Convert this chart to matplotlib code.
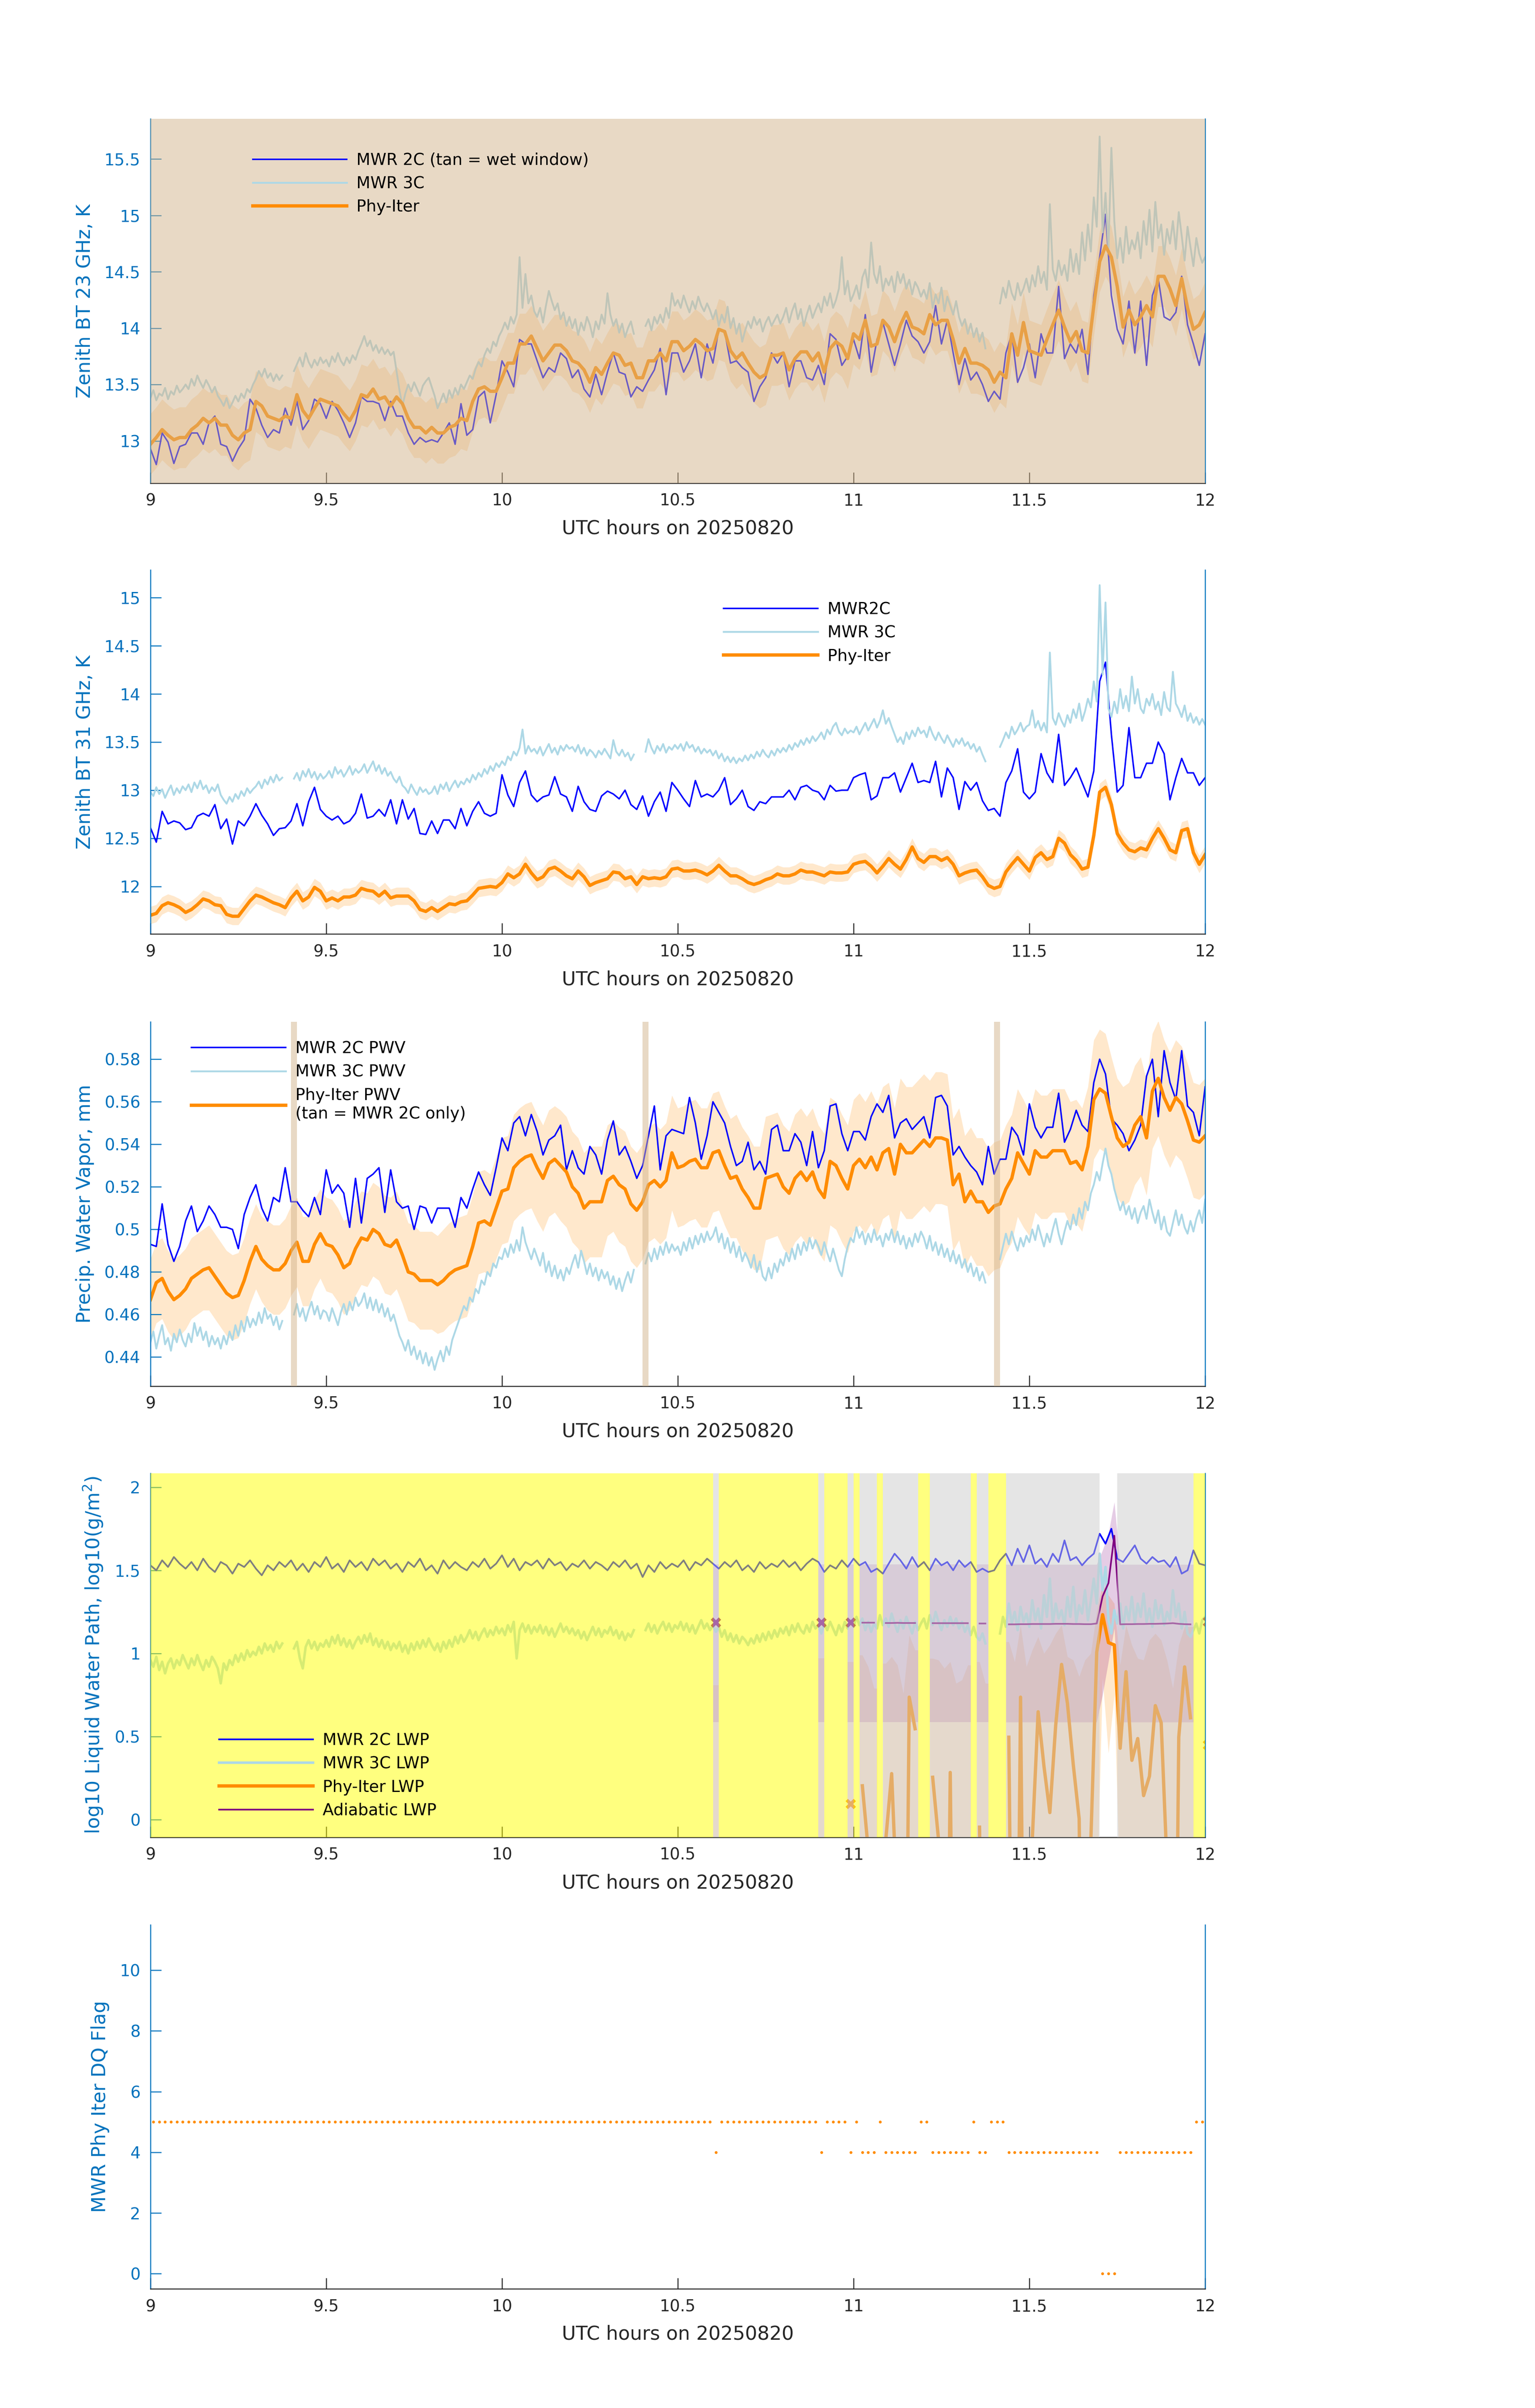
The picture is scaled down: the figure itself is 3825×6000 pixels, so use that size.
import numpy as np
import matplotlib
matplotlib.use("Agg")
import matplotlib.pyplot as plt
from matplotlib.ticker import FuncFormatter

nan = np.nan

# ---------------- sampling grids ----------------
T_2C = 9 + np.arange(181) / 60.0            # MWR 2C, 1-min
T_3C = 9 + np.arange(361) / 120.0           # MWR 3C, 30-s
T_PI = 9 + (np.arange(181) + 0.5) / 60.0    # Phy-Iter retrieval samples
XTICKS = [9, 9.5, 10, 10.5, 11, 11.5, 12]

# ---------------- panel 1 : BT 23 GHz ----------------
BT23_2C = [12.93, 12.79, 13.07, 12.99, 12.80, 12.95, 12.97, 13.07, 13.07, 12.97,
           13.16, 13.22, 12.97, 12.95, 12.82, 12.93, 13.01, 13.37, 13.29, 13.14,
           13.03, 13.10, 13.07, 13.29, 13.14, 13.35, 13.10, 13.18, 13.37, 13.33,
           13.20, 13.35, 13.27, 13.16, 13.03, 13.16, 13.39, 13.35, 13.35, 13.33,
           13.18, 13.35, 13.22, 13.22, 13.07, 12.97, 13.03, 12.99, 13.01, 12.99,
           13.07, 13.16, 12.97, 13.33, 13.05, 13.10, 13.39, 13.44, 13.16, 13.41,
           13.71, 13.61, 13.48, 13.90, 13.86, 13.86, 13.71, 13.56, 13.65, 13.61,
           13.78, 13.73, 13.56, 13.63, 13.46, 13.39, 13.59, 13.41, 13.61, 13.78,
           13.61, 13.59, 13.39, 13.48, 13.44, 13.54, 13.63, 13.82, 13.41, 13.78,
           13.78, 13.61, 13.71, 13.86, 13.56, 13.86, 13.69, 13.99, 13.97, 13.69,
           13.71, 13.65, 13.61, 13.35, 13.48, 13.56, 13.78, 13.69, 13.78, 13.48,
           13.71, 13.71, 13.56, 13.54, 13.67, 13.50, 13.95, 13.90, 13.67, 13.75,
           13.90, 13.73, 14.12, 13.61, 13.90, 14.05, 13.86, 13.67, 13.86, 14.07,
           13.93, 13.88, 13.78, 13.88, 14.20, 13.86, 14.07, 13.78, 13.50, 13.73,
           13.54, 13.61, 13.50, 13.35, 13.44, 13.37, 13.78, 13.95, 13.52, 13.65,
           13.86, 13.56, 13.95, 13.78, 13.78, 14.37, 13.73, 13.86, 13.78, 13.99,
           13.59, 14.29, 14.63, 15.01, 14.29, 13.99, 13.86, 14.24, 13.78, 14.24,
           13.67, 14.29, 14.44, 14.10, 14.07, 14.14, 14.46, 14.03, 13.86, 13.67,
           13.95]
BT23_3C = [13.38, 13.45, 13.36, 13.42, 13.40, 13.47, 13.37, 13.44, 13.41, 13.49, 13.43, 13.46,
           13.50, 13.46, 13.55, 13.49, 13.58, 13.52, 13.47, 13.54, 13.49, 13.43, 13.48, 13.40,
           13.36, 13.31, 13.38, 13.29, 13.34, 13.40, 13.35, 13.42, 13.38, 13.46, 13.43, 13.50,
           13.55, 13.62, 13.57, 13.64, 13.56, 13.60, 13.53, 13.59, 13.54, 13.58, nan, nan,
           nan, 13.62, 13.68, 13.74, 13.66, 13.78, 13.70, 13.65, 13.72, 13.67, 13.74, 13.69,
           13.72, 13.66, 13.75, 13.70, 13.78, 13.71, 13.67, 13.74, 13.69, 13.76, 13.72, 13.80,
           13.86, 13.93, 13.84, 13.89, 13.80, 13.85, 13.78, 13.83, 13.77, 13.81, 13.76, 13.79,
           13.62, 13.45, 13.31, 13.42, 13.50, 13.44, 13.52, 13.46, 13.40, 13.49, 13.53, 13.56,
           13.48, 13.40, 13.29, 13.35, 13.42, 13.34, 13.45, 13.38, 13.47, 13.41, 13.50, 13.46,
           13.52, 13.58, 13.55, 13.64, 13.70, 13.66, 13.76, 13.82, 13.78, 13.88, 13.84, 13.93,
           13.98, 14.05, 13.99, 14.10, 14.04, 14.12, 14.63, 14.18, 14.48, 14.22, 14.29, 14.15,
           14.10, 14.18, 14.05, 14.20, 14.33, 14.24, 14.16, 14.22, 14.08, 14.14, 14.02, 14.10,
           14.00, 14.08, 13.94, 14.05, 13.98, 14.10, 14.03, 13.92, 14.06, 13.99, 14.12, 14.04,
           14.31, 14.12, 14.02, 14.08, 13.96, 14.04, 13.92, 14.00, 14.06, 13.95, nan, nan,
           nan, 14.02, 14.08, 13.98, 14.10, 14.04, 14.12, 14.05, 14.18, 14.09, 14.31, 14.20,
           14.25, 14.18, 14.29, 14.21, 14.14, 14.24, 14.17, 14.28, 14.20, 14.15, 14.22, 14.16,
           14.08, 14.16, 14.02, 14.12, 14.05, 14.19, 14.00, 14.09, 13.95, 14.04, 13.88, 13.98,
           14.06, 14.00, 14.10, 14.03, 14.08, 13.97, 14.05, 14.10, 14.02, 14.07, 14.12, 14.04,
           14.10, 14.18, 14.05, 14.15, 14.22, 14.08, 14.17, 14.02, 14.12, 14.20, 14.09, 14.16,
           14.22, 14.14, 14.28, 14.20, 14.31, 14.18, 14.25, 14.35, 14.63, 14.30, 14.42, 14.24,
           14.30, 14.38, 14.26, 14.45, 14.52, 14.36, 14.76, 14.48, 14.40, 14.55, 14.33, 14.44,
           14.38, 14.46, 14.32, 14.50, 14.40, 14.48, 14.35, 14.43, 14.30, 14.41, 14.36, 14.28,
           14.34, 14.26, 14.40, 14.18, 14.30, 14.22, 14.36, 14.15, 14.28, 14.20, 14.12, 14.24,
           14.10, 14.02, 14.08, 13.95, 14.04, 13.92, 14.00, 13.88, 13.96, 13.82, nan, nan,
           nan, nan, 14.22, 14.36, 14.27, 14.42, 14.31, 14.25, 14.40, 14.29, 14.35, 14.44,
           14.32, 14.47, 14.37, 14.55, 14.40, 14.50, 14.34, 15.10, 14.52, 14.42, 14.60, 14.47,
           14.56, 14.42, 14.70, 14.50, 14.66, 14.48, 14.85, 14.60, 14.92, 14.68, 15.16, 14.90,
           15.70, 14.85, 15.20, 14.70, 15.60, 14.95, 14.62, 14.80, 14.58, 14.90, 14.66, 14.78,
           14.70, 14.85, 14.62, 14.95, 14.74, 15.05, 14.68, 15.12, 14.80, 14.92, 14.65, 14.88,
           14.75, 14.95, 14.70, 15.03, 14.82, 14.60, 14.90, 14.72, 14.55, 14.80, 14.66, 14.58,
           14.63]
BT23_PI = [12.97, 13.03, 13.10, 13.05, 13.01, 13.03, 13.03, 13.10, 13.14, 13.20,
           13.16, 13.20, 13.14, 13.14, 13.05, 13.01, 13.07, 13.10, 13.35, 13.31,
           13.22, 13.20, 13.18, 13.22, 13.20, 13.41, 13.27, 13.20, 13.29, 13.37,
           13.35, 13.33, 13.31, 13.24, 13.18, 13.27, 13.41, 13.39, 13.46, 13.37,
           13.39, 13.31, 13.39, 13.33, 13.20, 13.12, 13.12, 13.07, 13.12, 13.07,
           13.07, 13.12, 13.14, 13.20, 13.18, 13.35, 13.46, 13.48, 13.44, 13.44,
           13.56, 13.69, 13.69, 13.86, 13.86, 13.93, 13.82, 13.71, 13.78, 13.85,
           13.85, 13.80, 13.71, 13.69, 13.63, 13.52, 13.65, 13.59, 13.69, 13.78,
           13.76, 13.67, 13.69, 13.56, 13.56, 13.71, 13.71, 13.78, 13.71, 13.88,
           13.88, 13.80, 13.84, 13.90, 13.86, 13.80, 13.82, 13.99, 13.97, 13.80,
           13.73, 13.78, 13.69, 13.61, 13.56, 13.59, 13.76, 13.76, 13.78, 13.63,
           13.73, 13.79, 13.79, 13.71, 13.78, 13.61, 13.82, 13.88, 13.84, 13.73,
           13.95, 13.90, 14.07, 13.84, 13.86, 14.07, 14.01, 13.88, 14.03, 14.14,
           14.01, 13.99, 13.95, 14.12, 14.03, 14.07, 14.07, 13.90, 13.69, 13.82,
           13.69, 13.69, 13.67, 13.63, 13.52, 13.61, 13.56, 13.95, 13.76, 14.05,
           13.80, 13.78, 13.76, 13.90, 14.03, 14.16, 14.01, 13.88, 13.97, 13.80,
           13.78, 14.20, 14.59, 14.73, 14.63, 14.37, 14.01, 14.16, 14.03, 14.10,
           14.20, 14.10, 14.46, 14.46, 14.35, 14.20, 14.44, 14.18, 13.99, 14.03,
           14.14]
BT23_PI_UNC = 0.27
WET_WINDOW = [(9.0, 12.0)]

# ---------------- panel 2 : BT 31 GHz ----------------
BT31_2C = [12.61, 12.46, 12.78, 12.65, 12.68, 12.66, 12.59, 12.61, 12.73, 12.76,
           12.73, 12.85, 12.60, 12.70, 12.44, 12.68, 12.63, 12.73, 12.86, 12.74,
           12.65, 12.53, 12.60, 12.61, 12.68, 12.86, 12.63, 12.88, 13.03, 12.80,
           12.73, 12.69, 12.73, 12.65, 12.68, 12.76, 12.96, 12.71, 12.73, 12.80,
           12.73, 12.90, 12.65, 12.90, 12.70, 12.81, 12.55, 12.54, 12.68, 12.55,
           12.69, 12.69, 12.60, 12.81, 12.63, 12.78, 12.88, 12.76, 12.73, 12.76,
           13.16, 12.95, 12.83, 13.08, 13.20, 12.95, 12.88, 12.93, 12.95, 13.14,
           12.96, 12.93, 12.78, 13.04, 12.88, 12.80, 12.78, 12.94, 12.99, 12.96,
           12.91, 13.00, 12.85, 12.80, 12.94, 12.73, 12.88, 12.98, 12.78, 13.08,
           13.00, 12.91, 12.83, 13.10, 12.93, 12.96, 12.93, 13.00, 13.13, 12.85,
           12.91, 13.00, 12.83, 12.79, 12.88, 12.86, 12.93, 12.93, 12.93, 13.00,
           12.90, 13.03, 13.05, 13.00, 12.98, 12.90, 13.05, 12.99, 13.00, 13.00,
           13.13, 13.16, 13.18, 12.90, 12.94, 13.13, 13.13, 13.18, 12.98, 13.13,
           13.28, 13.08, 13.10, 13.08, 13.30, 12.93, 13.23, 13.13, 12.80, 13.09,
           13.00, 13.08, 12.89, 12.79, 12.81, 12.73, 13.08, 13.20, 13.43, 12.98,
           12.91, 12.98, 13.38, 13.18, 13.08, 13.58, 13.05, 13.13, 13.23, 13.08,
           12.93, 13.20, 14.13, 14.33, 13.58, 12.98, 13.05, 13.65, 13.13, 13.13,
           13.28, 13.28, 13.50, 13.38, 12.90, 13.13, 13.33, 13.18, 13.18, 13.05,
           13.13]
BT31_3C = [12.98, 12.94, 13.03, 12.96, 13.01, 12.92, 12.99, 13.05, 12.95, 13.02, 12.97, 13.04,
           13.00, 13.06, 12.98, 13.08, 13.02, 13.10, 13.01, 13.05, 12.97, 13.03, 12.99, 13.06,
           12.95, 12.90, 12.86, 12.93, 12.88, 12.96, 12.91, 12.99, 12.94, 13.02, 12.97, 13.01,
           13.04, 13.09, 13.02, 13.11, 13.06, 13.14, 13.08, 13.16, 13.10, 13.13, nan, nan,
           nan, 13.12, 13.18, 13.10, 13.20, 13.14, 13.22, 13.13, 13.19, 13.11, 13.17, 13.12,
           13.15, 13.20, 13.13, 13.24, 13.17, 13.21, 13.14, 13.19, 13.25, 13.16, 13.22, 13.18,
           13.21, 13.27, 13.18, 13.24, 13.30, 13.20, 13.26, 13.17, 13.23, 13.15, 13.19, 13.12,
           13.08, 13.14, 13.05, 13.02, 12.97, 13.06, 13.00, 12.95, 13.03, 12.98, 13.01, 12.96,
           12.98, 13.04, 12.96, 13.06, 13.01, 13.08, 12.99, 13.05, 13.10, 13.03, 13.09, 13.06,
           13.12, 13.08, 13.16, 13.11, 13.18, 13.14, 13.22, 13.17, 13.25, 13.20, 13.28, 13.24,
           13.30, 13.26, 13.35, 13.31, 13.40, 13.36, 13.44, 13.63, 13.38, 13.46, 13.40, 13.43,
           13.38, 13.45, 13.36, 13.42, 13.48, 13.39, 13.44, 13.37, 13.46, 13.41, 13.47, 13.43,
           13.45, 13.40, 13.47, 13.38, 13.44, 13.36, 13.42, 13.39, 13.34, 13.41, 13.37, 13.43,
           13.38, 13.33, 13.52, 13.40, 13.36, 13.42, 13.35, 13.39, 13.31, 13.37, nan, nan,
           nan, 13.40, 13.53, 13.44, 13.38, 13.46, 13.41, 13.48, 13.39, 13.45, 13.42, 13.47,
           13.43, 13.48, 13.41, 13.50, 13.44, 13.47, 13.40, 13.45, 13.38, 13.43, 13.39, 13.42,
           13.36, 13.41, 13.33, 13.38, 13.30, 13.35, 13.29, 13.34, 13.28, 13.33, 13.30, 13.36,
           13.31, 13.37, 13.33, 13.40, 13.35, 13.42, 13.37, 13.34, 13.41, 13.36, 13.43, 13.39,
           13.44, 13.40, 13.47, 13.42, 13.49, 13.45, 13.52, 13.47, 13.54, 13.49, 13.56, 13.51,
           13.55, 13.60, 13.53, 13.63, 13.58, 13.66, 13.70, 13.61, 13.57, 13.64, 13.59, 13.62,
           13.60, 13.66, 13.58, 13.64, 13.70, 13.62, 13.68, 13.74, 13.65, 13.72, 13.83, 13.69,
           13.75, 13.66, 13.58, 13.50, 13.55, 13.48, 13.60, 13.53, 13.62, 13.56, 13.65, 13.59,
           13.62, 13.55, 13.66, 13.58, 13.52, 13.60, 13.54, 13.49, 13.57, 13.51, 13.45, 13.53,
           13.48, 13.54, 13.46, 13.50, 13.43, 13.48, 13.40, 13.45, 13.37, 13.30, nan, nan,
           nan, nan, 13.45, 13.52, 13.60, 13.54, 13.66, 13.58, 13.63, 13.70, 13.61, 13.66,
           13.68, 13.83, 13.65, 13.72, 13.62, 13.70, 13.60, 14.43, 13.75, 13.68, 13.80, 13.72,
           13.66, 13.78, 13.70, 13.84, 13.75, 13.90, 13.72, 13.82, 13.95, 13.86, 14.13, 13.92,
           15.13, 14.20, 14.95, 13.85, 13.76, 13.92, 13.80, 14.05, 13.85, 13.98, 13.82, 14.18,
           13.90, 14.05, 13.85, 13.80, 13.95, 13.88, 14.00, 13.84, 13.92, 13.78, 14.02, 13.86,
           13.82, 14.23, 13.90, 13.84, 13.76, 13.88, 13.72, 13.80, 13.70, 13.76, 13.68, 13.74,
           13.68]
BT31_PI = [11.70, 11.72, 11.80, 11.83, 11.81, 11.78, 11.73, 11.76, 11.81, 11.87,
           11.85, 11.81, 11.80, 11.71, 11.69, 11.69, 11.77, 11.85, 11.91, 11.89,
           11.86, 11.83, 11.81, 11.78, 11.88, 11.95, 11.85, 11.89, 11.99, 11.95,
           11.85, 11.88, 11.85, 11.89, 11.89, 11.91, 11.98, 11.96, 11.95, 11.90,
           11.95, 11.88, 11.90, 11.90, 11.90, 11.85, 11.76, 11.74, 11.78, 11.74,
           11.78, 11.82, 11.81, 11.84, 11.85, 11.91, 11.98, 11.99, 12.00, 11.99,
           12.04, 12.13, 12.09, 12.13, 12.23, 12.14, 12.07, 12.10, 12.18, 12.20,
           12.16, 12.11, 12.08, 12.16, 12.10, 12.01, 12.04, 12.06, 12.08, 12.15,
           12.14, 12.08, 12.10, 12.02, 12.10, 12.08, 12.09, 12.08, 12.10, 12.18,
           12.19, 12.16, 12.16, 12.17, 12.15, 12.12, 12.16, 12.22, 12.16, 12.11,
           12.11, 12.08, 12.04, 12.02, 12.04, 12.07, 12.09, 12.13, 12.11, 12.11,
           12.13, 12.17, 12.15, 12.15, 12.13, 12.11, 12.15, 12.14, 12.14, 12.15,
           12.23, 12.25, 12.26, 12.21, 12.14, 12.21, 12.29, 12.23, 12.18, 12.28,
           12.41, 12.29, 12.25, 12.31, 12.31, 12.27, 12.30, 12.23, 12.11, 12.14,
           12.16, 12.17, 12.10, 12.01, 11.98, 12.00, 12.15, 12.23, 12.30, 12.23,
           12.16, 12.30, 12.35, 12.28, 12.31, 12.50, 12.45, 12.33, 12.27, 12.18,
           12.20, 12.53, 12.98, 13.03, 12.85, 12.55, 12.45, 12.38, 12.36, 12.40,
           12.38, 12.50, 12.60, 12.50, 12.38, 12.35, 12.58, 12.60, 12.35, 12.23,
           12.33]
BT31_PI_UNC = 0.09

# ---------------- panel 3 : PWV ----------------
PWV_2C = [0.493, 0.492, 0.512, 0.493, 0.485, 0.492, 0.504, 0.511, 0.499, 0.504,
          0.511, 0.507, 0.501, 0.501, 0.500, 0.491, 0.507, 0.515, 0.521, 0.510,
          0.504, 0.515, 0.513, 0.529, 0.513, 0.513, 0.509, 0.506, 0.515, 0.507,
          0.528, 0.517, 0.521, 0.517, 0.501, 0.524, 0.503, 0.524, 0.526, 0.529,
          0.508, 0.528, 0.513, 0.510, 0.511, 0.500, 0.511, 0.510, 0.503, 0.510,
          0.510, 0.510, 0.501, 0.515, 0.510, 0.519, 0.527, 0.521, 0.516, 0.529,
          0.543, 0.537, 0.550, 0.553, 0.544, 0.554, 0.546, 0.535, 0.542, 0.544,
          0.549, 0.528, 0.537, 0.529, 0.526, 0.539, 0.535, 0.526, 0.542, 0.551,
          0.535, 0.539, 0.532, 0.524, 0.530, 0.544, 0.558, 0.528, 0.544, 0.547,
          0.546, 0.545, 0.562, 0.550, 0.533, 0.544, 0.560, 0.555, 0.550, 0.539,
          0.530, 0.532, 0.541, 0.528, 0.532, 0.526, 0.547, 0.549, 0.537, 0.537,
          0.545, 0.541, 0.530, 0.546, 0.529, 0.537, 0.558, 0.559, 0.545, 0.537,
          0.546, 0.546, 0.542, 0.553, 0.559, 0.555, 0.563, 0.543, 0.550, 0.552,
          0.547, 0.550, 0.553, 0.543, 0.562, 0.563, 0.558, 0.535, 0.539, 0.534,
          0.530, 0.527, 0.521, 0.539, 0.526, 0.533, 0.533, 0.548, 0.544, 0.535,
          0.559, 0.548, 0.543, 0.548, 0.548, 0.564, 0.541, 0.547, 0.556, 0.549,
          0.546, 0.569, 0.580, 0.573, 0.552, 0.549, 0.545, 0.537, 0.542, 0.549,
          0.572, 0.580, 0.553, 0.584, 0.569, 0.561, 0.584, 0.558, 0.555, 0.544,
          0.567]
PWV_3C = [0.447, 0.452, 0.444, 0.450, 0.455, 0.446, 0.449, 0.443, 0.451, 0.447, 0.453, 0.448,
          0.445, 0.451, 0.447, 0.456, 0.450, 0.454, 0.448, 0.452, 0.445, 0.450, 0.446, 0.449,
          0.444, 0.450, 0.446, 0.452, 0.448, 0.455, 0.450, 0.457, 0.452, 0.459, 0.454, 0.458,
          0.455, 0.461, 0.456, 0.463, 0.458, 0.460, 0.455, 0.459, 0.453, 0.457, nan, nan,
          nan, 0.460, 0.465, 0.459, 0.463, 0.457, 0.462, 0.466, 0.460, 0.464, 0.458, 0.462,
          0.461, 0.457, 0.463, 0.459, 0.455, 0.461, 0.465, 0.460, 0.466, 0.462, 0.468, 0.464,
          0.466, 0.470, 0.463, 0.468, 0.462, 0.467, 0.461, 0.465, 0.459, 0.463, 0.457, 0.460,
          0.455, 0.450, 0.447, 0.443, 0.448, 0.441, 0.445, 0.439, 0.443, 0.437, 0.442, 0.436,
          0.440, 0.434, 0.439, 0.443, 0.438, 0.445, 0.441, 0.448, 0.452, 0.456, 0.460, 0.464,
          0.462, 0.468, 0.466, 0.472, 0.470, 0.476, 0.474, 0.480, 0.478, 0.484, 0.482, 0.487,
          0.486, 0.491, 0.487, 0.493, 0.489, 0.495, 0.490, 0.501, 0.494, 0.490, 0.486, 0.491,
          0.487, 0.483, 0.489, 0.480, 0.485, 0.478, 0.483, 0.477, 0.481, 0.476, 0.482, 0.479,
          0.484, 0.488, 0.482, 0.490, 0.485, 0.479, 0.484, 0.478, 0.482, 0.476, 0.481, 0.477,
          0.480, 0.474, 0.478, 0.472, 0.477, 0.471, 0.476, 0.480, 0.475, 0.481, nan, nan,
          nan, 0.484, 0.489, 0.485, 0.491, 0.486, 0.492, 0.488, 0.494, 0.489, 0.493, 0.490,
          0.492, 0.488, 0.494, 0.490, 0.496, 0.491, 0.497, 0.493, 0.498, 0.494, 0.499, 0.495,
          0.497, 0.501, 0.494, 0.498, 0.491, 0.496, 0.489, 0.494, 0.487, 0.492, 0.485, 0.489,
          0.486, 0.482, 0.488, 0.480, 0.485, 0.478, 0.476, 0.482, 0.477, 0.484, 0.480, 0.486,
          0.483, 0.489, 0.485, 0.491, 0.486, 0.493, 0.488, 0.494, 0.490, 0.496, 0.491, 0.495,
          0.492, 0.488, 0.494, 0.489, 0.485, 0.491, 0.486, 0.481, 0.478, 0.486, 0.492, 0.496,
          0.494, 0.501, 0.496, 0.499, 0.493, 0.498, 0.494, 0.500, 0.495, 0.497, 0.492, 0.498,
          0.495, 0.500, 0.494, 0.499, 0.493, 0.497, 0.491, 0.496, 0.492, 0.498, 0.494, 0.499,
          0.496, 0.491, 0.497, 0.490, 0.494, 0.488, 0.493, 0.487, 0.491, 0.485, 0.490, 0.484,
          0.488, 0.482, 0.486, 0.480, 0.484, 0.478, 0.482, 0.476, 0.480, 0.475, nan, nan,
          nan, nan, 0.486, 0.492, 0.498, 0.493, 0.499, 0.494, 0.490, 0.496, 0.492, 0.497,
          0.494, 0.500, 0.495, 0.502, 0.497, 0.492, 0.498, 0.494, 0.500, 0.505, 0.498, 0.493,
          0.499, 0.504, 0.500, 0.507, 0.502, 0.510, 0.505, 0.513, 0.509, 0.517, 0.521, 0.527,
          0.523, 0.531, 0.538, 0.530, 0.526, 0.519, 0.514, 0.509, 0.513, 0.507, 0.511, 0.505,
          0.510, 0.503, 0.508, 0.511, 0.505, 0.514, 0.508, 0.503, 0.509, 0.500, 0.506, 0.499,
          0.497, 0.503, 0.509, 0.502, 0.507, 0.501, 0.498, 0.504, 0.499, 0.505, 0.509, 0.503,
          0.514]
PWV_PI = [0.467, 0.475, 0.477, 0.471, 0.467, 0.469, 0.472, 0.477, 0.479, 0.481,
          0.482, 0.478, 0.474, 0.470, 0.468, 0.469, 0.476, 0.485, 0.492, 0.486,
          0.483, 0.481, 0.481, 0.484, 0.490, 0.494, 0.485, 0.485, 0.493, 0.498,
          0.493, 0.492, 0.488, 0.482, 0.484, 0.491, 0.496, 0.495, 0.500, 0.498,
          0.493, 0.492, 0.495, 0.488, 0.480, 0.479, 0.476, 0.476, 0.476, 0.474,
          0.476, 0.479, 0.481, 0.482, 0.483, 0.492, 0.503, 0.504, 0.502, 0.510,
          0.518, 0.519, 0.529, 0.532, 0.534, 0.535, 0.529, 0.524, 0.531, 0.533,
          0.530, 0.527, 0.520, 0.517, 0.510, 0.513, 0.513, 0.513, 0.523, 0.525,
          0.521, 0.519, 0.512, 0.509, 0.513, 0.521, 0.523, 0.520, 0.523, 0.536,
          0.529, 0.530, 0.532, 0.533, 0.529, 0.529, 0.536, 0.537, 0.530, 0.524,
          0.525, 0.519, 0.515, 0.510, 0.510, 0.524, 0.525, 0.526, 0.520, 0.517,
          0.524, 0.527, 0.523, 0.527, 0.519, 0.515, 0.532, 0.530, 0.524, 0.519,
          0.530, 0.533, 0.529, 0.534, 0.528, 0.536, 0.538, 0.526, 0.540, 0.536,
          0.536, 0.539, 0.542, 0.539, 0.543, 0.543, 0.542, 0.521, 0.526, 0.513,
          0.518, 0.513, 0.513, 0.508, 0.511, 0.512, 0.519, 0.524, 0.536, 0.531,
          0.526, 0.537, 0.534, 0.534, 0.537, 0.537, 0.537, 0.531, 0.532, 0.528,
          0.539, 0.561, 0.566, 0.564, 0.553, 0.543, 0.539, 0.541, 0.549, 0.553,
          0.543, 0.565, 0.571, 0.562, 0.556, 0.562, 0.559, 0.551, 0.542, 0.541,
          0.544]
PWV_PI_UNC_10MIN = [0.019, 0.020, 0.021, 0.022, 0.023, 0.024, 0.025, 0.026, 0.027,
                    0.028, 0.029, 0.030, 0.031, 0.031, 0.030, 0.029, 0.028, 0.027]
PWV_2C_ONLY = [(9.400, 9.4167), (10.400, 10.4167), (11.400, 11.4167)]

# ---------------- panel 4 : LWP ----------------
LWP_2C = [1.53, 1.50, 1.56, 1.52, 1.58, 1.54, 1.51, 1.55, 1.50, 1.57, 1.52, 1.49,
          1.55, 1.53, 1.48, 1.54, 1.52, 1.56, 1.51, 1.47, 1.53, 1.50, 1.55, 1.52,
          1.56, 1.50, 1.54, 1.49, 1.55, 1.52, 1.58, 1.51, 1.54, 1.49, 1.56, 1.52,
          1.55, 1.50, 1.57, 1.53, 1.56, 1.51, 1.54, 1.49, 1.55, 1.52, 1.57, 1.50,
          1.53, 1.48, 1.56, 1.51, 1.55, 1.52, 1.50, 1.55, 1.52, 1.57, 1.51, 1.54,
          1.59, 1.52, 1.57, 1.50, 1.55, 1.53, 1.56, 1.51, 1.57, 1.53, 1.55, 1.50,
          1.54, 1.52, 1.56, 1.51, 1.55, 1.53, 1.50, 1.55, 1.52, 1.56, 1.51, 1.54,
          1.46, 1.53, 1.49, 1.55, 1.51, 1.54, 1.52, 1.56, 1.50, 1.55, 1.53, 1.57,
          1.54, 1.51, 1.55, 1.52, 1.56, 1.50, 1.53, 1.49, 1.55, 1.51, 1.54, 1.52,
          1.56, 1.52, 1.55, 1.50, 1.54, 1.57, 1.55, 1.49, 1.53, 1.51, 1.56, 1.52,
          1.57, 1.53, 1.55, 1.49, 1.51, 1.48, 1.54, 1.60, 1.56, 1.51, 1.58, 1.52,
          1.55, 1.50, 1.57, 1.53, 1.55, 1.50, 1.56, 1.52, 1.55, 1.49, 1.51, 1.49,
          1.50, 1.56, 1.60, 1.53, 1.63, 1.55, 1.65, 1.54, 1.57, 1.52, 1.60, 1.55,
          1.68, 1.56, 1.58, 1.53, 1.57, 1.60, 1.72, 1.66, 1.75, 1.57, 1.55, 1.60,
          1.65, 1.57, 1.54, 1.58, 1.55, 1.56, 1.52, 1.58, 1.48, 1.50, 1.62, 1.54,
          1.53]
LWP_3C = [0.96, 0.92, 0.98, 0.90, 0.95, 0.88, 0.94, 0.97, 0.91, 0.96, 0.93, 0.99,
          0.95, 0.91, 0.97, 0.93, 0.99, 0.94, 0.90, 0.96, 0.92, 0.98, 0.95, 0.91,
          0.82, 0.94, 0.90, 0.96, 0.93, 0.99, 0.95, 1.00, 0.96, 1.02, 0.98, 1.01,
          0.99, 1.04, 1.00, 1.06, 1.02, 1.05, 1.01, 1.07, 1.03, 1.06, nan, nan,
          nan, 1.03, 1.07, 0.97, 0.91, 1.04, 1.08, 1.03, 1.07, 1.02, 1.06, 1.04,
          1.08, 1.04, 1.10, 1.06, 1.11, 1.05, 1.09, 1.04, 1.08, 1.03, 1.07, 1.10,
          1.06, 1.11, 1.07, 1.12, 1.05, 1.09, 1.04, 1.08, 1.03, 1.07, 1.02, 1.06,
          1.03, 1.07, 1.01, 1.05, 1.00, 1.06, 1.02, 1.07, 1.03, 1.08, 1.04, 1.09,
          1.05, 1.02, 1.06, 1.01, 1.07, 1.03, 1.08, 1.04, 1.10, 1.06, 1.11, 1.07,
          1.10, 1.14, 1.09, 1.13, 1.08, 1.12, 1.15, 1.10, 1.14, 1.11, 1.16, 1.12,
          1.15, 1.11, 1.17, 1.13, 1.19, 0.97, 1.14, 1.18, 1.13, 1.17, 1.12, 1.16,
          1.13, 1.17, 1.12, 1.16, 1.11, 1.15, 1.10, 1.14, 1.18, 1.13, 1.16, 1.12,
          1.15, 1.11, 1.14, 1.09, 1.13, 1.08, 1.12, 1.16, 1.11, 1.15, 1.10, 1.14,
          1.12, 1.16, 1.11, 1.14, 1.09, 1.13, 1.08, 1.12, 1.10, 1.14, nan, nan,
          nan, 1.14, 1.18, 1.13, 1.17, 1.12, 1.16, 1.19, 1.14, 1.18, 1.13, 1.17,
          1.15, 1.19, 1.14, 1.18, 1.13, 1.17, 1.12, 1.16, 1.20, 1.15, 1.18, 1.14,
          1.17, 1.13, 1.16, 1.10, 1.14, 1.08, 1.12, 1.07, 1.11, 1.06, 1.10, 1.08,
          1.05, 1.09, 1.06, 1.11, 1.07, 1.12, 1.08, 1.13, 1.09, 1.14, 1.10, 1.15,
          1.12, 1.16, 1.11, 1.17, 1.13, 1.18, 1.14, 1.12, 1.17, 1.13, 1.19, 1.15,
          1.17, 1.12, 1.18, 1.14, 1.19, 1.15, 1.11, 1.17, 1.13, 1.19, 1.15, 1.20,
          1.16, 1.22, 1.17, 1.21, 1.14, 1.19, 1.13, 1.18, 1.15, 1.23, 1.17, 1.21,
          1.16, 1.24, 1.18, 1.13, 1.20, 1.15, 1.22, 1.17, 1.12, 1.19, 1.14, 1.18,
          1.21, 1.15, 1.23, 1.17, 1.25, 1.19, 1.14, 1.20, 1.16, 1.22, 1.17, 1.21,
          1.15, 1.19, 1.13, 1.17, 1.11, 1.16, 1.10, 1.08, 1.12, 1.06, nan, nan,
          nan, nan, 1.12, 1.22, 1.16, 1.30, 1.18, 1.25, 1.14, 1.28, 1.19, 1.24,
          1.16, 1.32, 1.20, 1.27, 1.15, 1.35, 1.22, 1.45, 1.18, 1.30, 1.21, 1.26,
          1.17, 1.34, 1.22, 1.40, 1.19, 1.29, 1.24, 1.38, 1.20, 1.32, 1.45, 1.30,
          1.60, 1.38, 1.52, 1.20, 1.12, 1.26, 1.18, 1.30, 1.15, 1.28, 1.20, 1.34,
          1.18, 1.30, 1.22, 1.36, 1.19, 1.27, 1.16, 1.32, 1.21, 1.29, 1.17, 1.25,
          1.20, 1.38, 1.22, 1.30, 1.15, 1.25, 1.12, 1.10, 1.14, 1.18, 1.12, 1.20,
          1.22]
# Phy-Iter samples 0..95 are clear sky (no LWP); values below from sample 96 on
LWP_PI_FROM96 = ([-3.0] + [nan] * 17 + [-3.0] + [nan] * 4 + [0.094] + [nan]
                 + [0.204, -0.18, -3.0] + [nan]
                 + [-0.12, 0.277, -0.58, -3.0, 0.737, 0.547] + [nan] * 2
                 + [0.255, -0.12, -3.0, 0.284, -3.0, -3.0, -3.0] + [nan]
                 + [-0.045, -3.0] + [nan] * 3
                 + [0.496, -3.0, 0.737, -3.0, -0.12, 0.649, 0.32, 0.043,
                    0.57, 0.934, 0.70, 0.33, 0.006, -3.0, -0.12, 1.007]
                 + [1.233, 1.065, 1.051]
                 + [0.43, 0.89, 0.357, 0.488, 0.145, 0.262, 0.686, 0.583,
                    -0.28, -3.0, 0.496, 0.919, 0.613]
                 + [nan] * 2 + [0.45])
LWP_PI_TOP_FROM96 = ([0.81] + [nan] * 17 + [0.97] + [nan] * 4 + [0.95] + [nan]
                     + [0.99, 0.92, 0.79] + [nan]
                     + [0.94, 0.98, 0.93, 0.76, 1.11, 1.02] + [nan] * 2
                     + [0.97, 0.96, 0.91, 0.95, 0.82, 0.84, 0.93] + [nan]
                     + [0.95, 0.82] + [nan] * 3
                     + [1.07, 0.95, 1.17, 0.92, 1.02, 1.10, 1.00, 1.05,
                        1.12, 1.17, 0.98, 0.96, 0.86, 0.96, 1.00, 1.25]
                     + [1.42, 1.35, 1.30]
                     + [0.93, 1.17, 1.05, 0.97, 0.96, 1.08, 1.12, 1.08,
                        0.96, 0.79, 1.05, 1.16, 1.16]
                     + [nan] * 2 + [1.00])
LWP_AD_FROM96 = ([1.185] + [nan] * 17 + [1.185] + [nan] * 4 + [1.185] + [nan]
                 + [1.185, 1.185, 1.185] + [nan]
                 + [1.183, 1.183, 1.184, 1.183, 1.183, 1.183] + [nan] * 2
                 + [1.182] * 7 + [nan]
                 + [1.180, 1.180] + [nan] * 3
                 + [1.175, 1.175, 1.176, 1.176, 1.177, 1.177, 1.177, 1.177,
                    1.178, 1.178, 1.178, 1.177, 1.177, 1.176, 1.176, 1.180]
                 + [1.343, 1.423, 1.708]
                 + [1.175, 1.176, 1.176, 1.177, 1.177, 1.178, 1.178, 1.179,
                    1.180, 1.182, 1.178, 1.176, 1.175]
                 + [nan] * 2 + [1.190])
PI_BAND_BOTTOM_CLOUD = -0.5
PI_BAND_BOTTOM_NOFLAG = [0.85, 0.40, 0.75]      # samples 162-164
AD_BAND_CLOUD = (0.587, 1.535)
AD_BAND_NOFLAG_LO = [0.75, 0.95, 1.15]          # samples 162-164
AD_BAND_NOFLAG_HI = [1.62, 1.72, 1.91]

# ---------------- panel 5 : DQ flag ----------------
DQ_FLAG = ([5] * 96 + [4] + [5] * 17 + [4] + [5] * 4 + [4] + [5] + [4] * 3 + [5]
           + [4] * 6 + [5] * 2 + [4] * 7 + [5] + [4] * 2 + [5] * 3 + [4] * 16
           + [0] * 3 + [4] * 13 + [5] * 2 + [4])

# ====================================================================
BLUE_AX = '#0072BD'
DARK = '#262626'
C2 = '#0000FF'
C3 = '#ADD8E6'
CPI = '#FF8C00'
CAD = '#800080'
FS_TICK = 9.7
FS_LAB = 11.5

for name, arr, n in [('BT23_2C', BT23_2C, 181), ('BT23_3C', BT23_3C, 361), ('BT23_PI', BT23_PI, 181),
                     ('BT31_2C', BT31_2C, 181), ('BT31_3C', BT31_3C, 361), ('BT31_PI', BT31_PI, 181),
                     ('PWV_2C', PWV_2C, 181), ('PWV_3C', PWV_3C, 361), ('PWV_PI', PWV_PI, 181),
                     ('LWP_2C', LWP_2C, 181), ('LWP_3C', LWP_3C, 361),
                     ('LWP_PI_FROM96', LWP_PI_FROM96, 85), ('LWP_PI_TOP_FROM96', LWP_PI_TOP_FROM96, 85),
                     ('LWP_AD_FROM96', LWP_AD_FROM96, 85), ('DQ_FLAG', DQ_FLAG, 181)]:
    assert len(arr) == n, (name, len(arr))

fmt = FuncFormatter(lambda v, p: f'{v:g}')


def style(ax, ylim, yticks, ylabel):
    ax.set_xlim(9, 12)
    ax.set_ylim(*ylim)
    ax.set_xticks(XTICKS)
    ax.set_yticks(yticks)
    ax.xaxis.set_major_formatter(fmt)
    ax.yaxis.set_major_formatter(fmt)
    ax.spines['top'].set_visible(False)
    for s in ('left', 'right'):
        ax.spines[s].set_color(BLUE_AX)
        ax.spines[s].set_linewidth(0.6)
    ax.spines['bottom'].set_color(DARK)
    ax.spines['bottom'].set_linewidth(0.6)
    ax.tick_params(axis='y', direction='in', length=6.5, width=0.6, colors=BLUE_AX,
                   labelsize=FS_TICK, pad=6, right=False)
    ax.tick_params(axis='x', direction='in', length=6.5, width=0.6, colors=DARK,
                   labelsize=FS_TICK, pad=6, top=False)
    ax.set_xlabel('UTC hours on 20250820', fontsize=FS_LAB, color=DARK, labelpad=6)
    ax.set_ylabel(ylabel, fontsize=FS_LAB, color=BLUE_AX, labelpad=6)


def legend(ax, loc, anchor):
    lg = ax.legend(loc=loc, bbox_to_anchor=anchor, frameon=False, fontsize=FS_TICK,
                   handlelength=5.8, handletextpad=0.6, labelspacing=0.45,
                   borderpad=0, borderaxespad=0)
    lg.set_zorder(6)


def runs(mask):
    idx = np.flatnonzero(mask)
    if idx.size == 0:
        return []
    br = np.flatnonzero(np.diff(idx) > 1)
    starts = np.r_[idx[0], idx[br + 1]]
    ends = np.r_[idx[br], idx[-1]]
    return list(zip(starts, ends))


def isolated(v):
    f = np.isfinite(v)
    left = np.r_[False, f[:-1]]
    right = np.r_[f[1:], False]
    return f & ~left & ~right


def fill_runs(ax, lo, hi, color, alpha):
    ok = np.isfinite(lo) & np.isfinite(hi)
    for a, b in runs(ok):
        x = np.r_[9 + a / 60.0, T_PI[a:b + 1], 9 + (b + 1) / 60.0]
        ylo = np.r_[lo[a], lo[a:b + 1], lo[b]]
        yhi = np.r_[hi[a], hi[a:b + 1], hi[b]]
        ax.fill_between(x, ylo, yhi, color=color, alpha=alpha, lw=0, zorder=1)


W = 0.6871
L = 0.0980
H = 0.1512
fig = plt.figure(figsize=(12.75, 20), dpi=300)

# ---------- panel 1 ----------
ax1 = fig.add_axes([L, 0.7994, W, H])
pi = np.array(BT23_PI)
ax1.fill_between(T_2C, pi - BT23_PI_UNC, pi + BT23_PI_UNC, color=CPI, alpha=0.2, lw=0, zorder=1)
ax1.plot(T_2C, BT23_2C, color=C2, lw=0.9, label='MWR 2C (tan = wet window)', zorder=2)
ax1.plot(T_3C, BT23_3C, color=C3, lw=1.1, label='MWR 3C', zorder=2)
ax1.plot(T_2C, BT23_PI, color=CPI, lw=2.0, label='Phy-Iter', zorder=2.1)
for a, b in WET_WINDOW:
    ax1.axvspan(a, b, color='#D2B48C', alpha=0.5, lw=0, zorder=3)
style(ax1, (12.626, 15.856), [13, 13.5, 14, 14.5, 15, 15.5], 'Zenith BT 23 GHz, K')
legend(ax1, 'upper left', (0.097, 0.908))

# ---------- panel 2 ----------
ax2 = fig.add_axes([L, 0.6121, W, H])
pi = np.array(BT31_PI)
ax2.fill_between(T_2C, pi - BT31_PI_UNC, pi + BT31_PI_UNC, color=CPI, alpha=0.2, lw=0, zorder=1)
ax2.plot(T_2C, BT31_2C, color=C2, lw=0.9, label='MWR2C', zorder=2)
ax2.plot(T_3C, BT31_3C, color=C3, lw=1.1, label='MWR 3C', zorder=2)
ax2.plot(T_2C, BT31_PI, color=CPI, lw=2.0, label='Phy-Iter', zorder=2.1)
style(ax2, (11.505, 15.288), [12, 12.5, 13, 13.5, 14, 14.5, 15], 'Zenith BT 31 GHz, K')
legend(ax2, 'upper left', (0.5435, 0.913))

# ---------- panel 3 ----------
ax3 = fig.add_axes([L, 0.4244, W, H])
pi = np.array(PWV_PI)
unc = np.r_[np.repeat(PWV_PI_UNC_10MIN, 10), PWV_PI_UNC_10MIN[-1]]
ax3.fill_between(T_2C, pi - unc, pi + unc, color=CPI, alpha=0.2, lw=0, zorder=1)
ax3.plot(T_2C, PWV_2C, color=C2, lw=0.9, label='MWR 2C PWV', zorder=2)
ax3.plot(T_3C, PWV_3C, color=C3, lw=1.1, label='MWR 3C PWV', zorder=2)
ax3.plot(T_2C, PWV_PI, color=CPI, lw=2.0, label='Phy-Iter PWV\n(tan = MWR 2C only)', zorder=2.1)
for a, b in PWV_2C_ONLY:
    ax3.axvspan(a, b, color='#D2B48C', alpha=0.5, lw=0, zorder=3)
style(ax3, (0.4264, 0.5975), [0.44, 0.46, 0.48, 0.50, 0.52, 0.54, 0.56, 0.58],
      'Precip. Water Vapor, mm')
legend(ax3, 'upper left', (0.039, 0.948))

# ---------- panel 4 ----------
ax4 = fig.add_axes([L, 0.2370, W, H])
lwp_pi = np.r_[np.full(96, nan), np.array(LWP_PI_FROM96, float)]
pi_top = np.r_[np.full(96, nan), np.array(LWP_PI_TOP_FROM96, float)]
lwp_ad = np.r_[np.full(96, nan), np.array(LWP_AD_FROM96, float)]
pi_bot = np.where(np.isfinite(pi_top), PI_BAND_BOTTOM_CLOUD, nan)
pi_bot[162:165] = PI_BAND_BOTTOM_NOFLAG
ad_lo = np.where(np.isfinite(lwp_ad), AD_BAND_CLOUD[0], nan)
ad_hi = np.where(np.isfinite(lwp_ad), AD_BAND_CLOUD[1], nan)
ad_lo[162:165] = AD_BAND_NOFLAG_LO
ad_hi[162:165] = AD_BAND_NOFLAG_HI
fill_runs(ax4, pi_bot, pi_top, CPI, 0.2)
fill_runs(ax4, ad_lo, ad_hi, CAD, 0.2)
ax4.plot(T_2C, LWP_2C, color=C2, lw=1.0, label='MWR 2C LWP', zorder=2)
ax4.plot(T_3C, LWP_3C, color=C3, lw=1.5, label='MWR 3C LWP', zorder=2)
ax4.plot(T_PI, lwp_pi, color=CPI, lw=2.0, label='Phy-Iter LWP', zorder=2.1)
ax4.plot(T_PI, lwp_ad, color=CAD, lw=1.0, label='Adiabatic LWP', zorder=2.2)
iso = isolated(lwp_pi)
ax4.plot(T_PI[iso], lwp_pi[iso], ls='none', marker='x', ms=5, mew=2.0, color=CPI, zorder=2.1)
iso = isolated(lwp_ad)
ax4.plot(T_PI[iso], lwp_ad[iso], ls='none', marker='x', ms=5, mew=2.0, color=CAD, zorder=2.2)
flags = np.array(DQ_FLAG)
for a, b in runs(flags == 5):
    ax4.axvspan(9 + a / 60.0, 9 + (b + 1) / 60.0, color=(1, 1, 0), alpha=0.5, lw=0, zorder=3)
for a, b in runs(flags == 4):
    ax4.axvspan(9 + a / 60.0, 9 + (b + 1) / 60.0, color=(0.8, 0.8, 0.8), alpha=0.5, lw=0, zorder=3)
style(ax4, (-0.106, 2.084), [0, 0.5, 1, 1.5, 2],
      r'log10 Liquid Water Path, log10(g/m$^2$)')
legend(ax4, 'lower left', (0.065, 0.051))

# ---------- panel 5 ----------
ax5 = fig.add_axes([L, 0.0495, W, H])
ax5.plot(T_PI, DQ_FLAG, ls='none', marker='o', ms=1.7, mew=0, color=CPI, zorder=2)
style(ax5, (-0.5, 11.5), [0, 2, 4, 6, 8, 10], 'MWR Phy Iter DQ Flag')

fig.savefig('out.png', dpi=300)
